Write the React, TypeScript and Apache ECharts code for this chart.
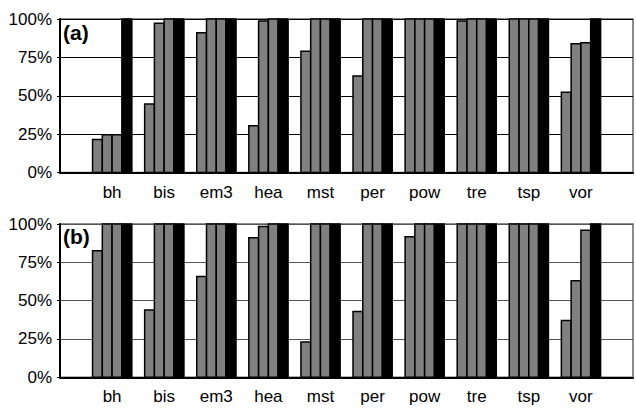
import React, { useEffect, useRef } from "react";
import * as echarts from "echarts";

const categories = ["bh", "bis", "em3", "hea", "mst", "per", "pow", "tre", "tsp", "vor"];
const yTicks = [0, 25, 50, 75, 100];

// Panel (a)
const a1 = [21.5, 44.6, 91, 30.4, 79, 62.8, 100, 98.7, 100, 52.2];
const a2 = [24.6, 97.2, 100, 98.7, 100, 100, 100, 100, 100, 83.9];
const a3 = [24.6, 100, 100, 100, 100, 100, 100, 100, 100, 84.6];
const a4 = [100, 100, 100, 100, 100, 100, 100, 100, 100, 100];

// Panel (b)
const b1 = [82.6, 43.9, 65.7, 91, 23, 43, 91.7, 100, 100, 37];
const b2 = [100, 100, 100, 98.3, 100, 100, 100, 100, 100, 63];
const b3 = [100, 100, 100, 100, 100, 100, 100, 100, 100, 96];
const b4 = [100, 100, 100, 100, 100, 100, 100, 100, 100, 100];

const FONT = "'Liberation Sans', Arial, Helvetica, sans-serif";
const GROUP = 0.75; // fraction of slot occupied by a group of bars
const NBARS = 4;
const BW = GROUP / NBARS;

function barRender(j: number) {
  return (params: any, api: any) => {
    const k = api.value(0);
    const v = api.value(1);
    const x0 = k - GROUP / 2 + j * BW;
    const p0 = api.coord([x0, v]);
    const p1 = api.coord([x0 + BW, 0]);
    return {
      type: "rect",
      shape: { x: p0[0], y: p0[1], width: p1[0] - p0[0], height: p1[1] - p0[1] },
      style: { fill: j === NBARS - 1 ? "#000" : "#808080", stroke: "#000", lineWidth: 1.5 },
    };
  };
}

function sepRender(color: string) {
  return (params: any, api: any) => {
    const b = api.value(0);
    const p0 = api.coord([b, 0]);
    const p1 = api.coord([b, 100]);
    return {
      type: "line",
      shape: { x1: p0[0], y1: p0[1], x2: p1[0], y2: p1[1] },
      style: { stroke: color, lineWidth: 1.5 },
    };
  };
}

export default function App() {
  const ref = useRef<HTMLDivElement>(null);
  useEffect(() => {
    if (!ref.current) return;
    const chart = echarts.init(ref.current, undefined, { renderer: "svg" });
    const boundaries = categories.map((_, i) => i + GROUP / 2);
    const panels = [
      { vals: [a1, a2, a3, a4], grid: { left: 60, right: 1.7, top: 19, height: 153.5 }, grid2: "#000", label: "(a)", labelTop: 22 },
      { vals: [b1, b2, b3, b4], grid: { left: 60, right: 1.7, top: 224, height: 153.3 }, grid2: "#555", label: "(b)", labelTop: 226 },
    ];
    const grids: any[] = [];
    const xAxes: any[] = [];
    const yAxes: any[] = [];
    const series: any[] = [];
    const graphics: any[] = [];
    panels.forEach((p, gi) => {
      grids.push({ ...p.grid, show: true, borderColor: "#666", borderWidth: 1.5, backgroundColor: "#fff" });
      xAxes.push({
        type: "value",
        gridIndex: gi,
        min: -1,
        max: 10,
        interval: 1,
        axisLine: { show: true, onZero: false, lineStyle: { color: "#000", width: 2 } },
        axisTick: { show: false },
        splitLine: { show: false },
        axisLabel: {
          color: "#000",
          fontSize: 17,
          fontFamily: FONT,
          margin: 11,
          formatter: (v: number) => categories[Math.round(v)] ?? "",
        },
      });
      yAxes.push({
        type: "value",
        gridIndex: gi,
        min: 0,
        max: 100,
        interval: 25,
        axisLine: { show: true, onZero: false, lineStyle: { color: "#000", width: 2 } },
        axisTick: { show: true, length: 3, lineStyle: { color: "#000" } },
        splitLine: { show: true, lineStyle: { color: p.grid2, width: 1 } },
        axisLabel: {
          color: "#000",
          fontSize: 17,
          fontFamily: FONT,
          margin: 8,
          formatter: (v: number) => (yTicks.includes(v) ? v + "%" : ""),
        },
      });
      series.push({
        type: "custom",
        xAxisIndex: gi,
        yAxisIndex: gi,
        z: 1,
        silent: true,
        renderItem: sepRender(gi === 0 ? "#000" : "#222"),
        data: boundaries.map((b) => [b, 0]),
      });
      p.vals.forEach((vals, j) => {
        series.push({
          type: "custom",
          xAxisIndex: gi,
          yAxisIndex: gi,
          z: 2,
          renderItem: barRender(j),
          data: categories.map((_, i) => [i, vals[i]]),
        });
      });
      graphics.push({
        type: "text",
        left: 63,
        top: p.labelTop,
        z: 10,
        style: { text: p.label, font: `bold 21px ${FONT}`, fill: "#000" },
      });
    });
    chart.setOption({
      animation: false,
      backgroundColor: "#fff",
      grid: grids,
      xAxis: xAxes,
      yAxis: yAxes,
      series,
      graphic: graphics,
    });
    return () => chart.dispose();
  }, []);
  return <div ref={ref} style={{ position: "absolute", left: 0, top: 0, width: 636, height: 411 }} />;
}
